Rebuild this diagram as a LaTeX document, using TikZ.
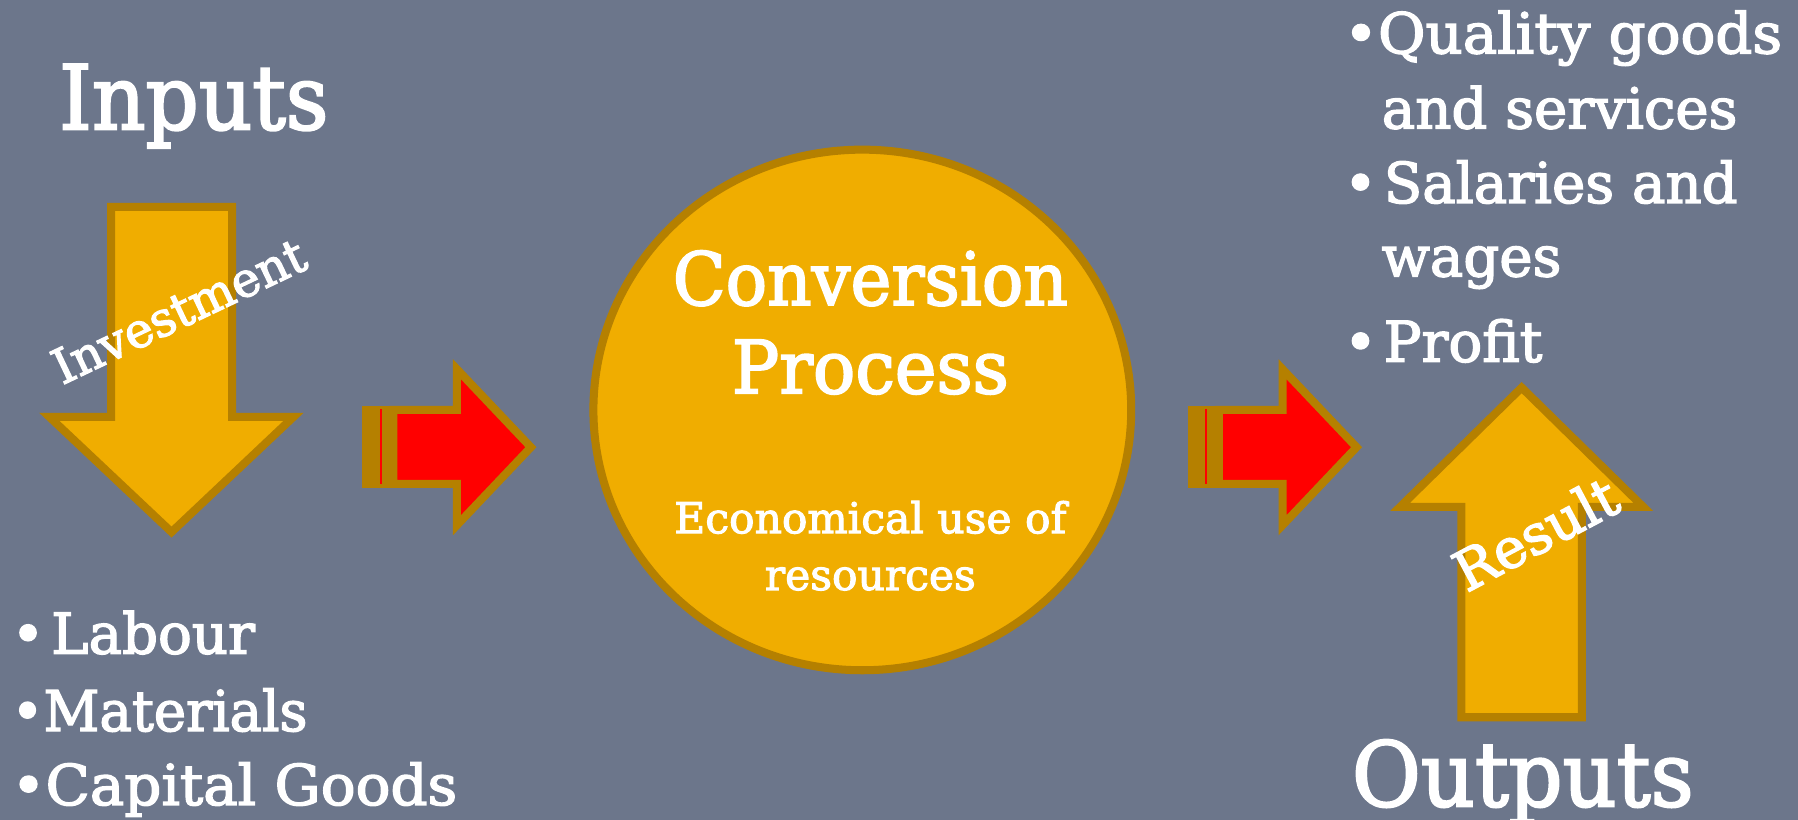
\documentclass[tikz,border=0pt]{standalone}
\usepackage{fontspec}
\setmainfont{DejaVu Serif}[FakeBold=2.5]
\usetikzlibrary{shapes.geometric}
\definecolor{bg}{RGB}{108,118,139}
\definecolor{gold}{RGB}{240,173,0}
\definecolor{goldline}{RGB}{181,128,0}
\definecolor{redfill}{RGB}{255,0,0}
\newcommand{\fs}[1]{\fontsize{#1}{#1}\selectfont}
\newcommand{\nx}[2]{\scalebox{#1}[1]{#2}}
\begin{document}
\begin{tikzpicture}[x=1pt,y=-1pt,
  lbl/.style={text=white,inner sep=0pt,outer sep=0pt},
  shapebody/.style={fill=gold,draw=goldline,line width=7pt,miter limit=10},
  redbody/.style={fill=redfill,draw=goldline,line width=7pt,miter limit=10},
  stripe/.style={fill=goldline},
  title/.style={lbl,anchor=base west,font=\fs{78}},
  item/.style={lbl,anchor=base west,font=\fs{49}},
  tilted/.style={lbl,anchor=center,font=\fs{42}}
]
\fill[bg] (0,0) rectangle (1568,715);
\useasboundingbox (0,0) rectangle (1568,715);

% down arrow (inputs)
\draw[shapebody] (97,180.5) -- (202.5,180.5) -- (202.5,363.5) -- (256,363.5) -- (149.6,464) -- (43,363.5) -- (97,363.5) -- cycle;
% up arrow (outputs)
\draw[shapebody] (1274.5,625.5) -- (1379.5,625.5) -- (1379.5,442) -- (1433,442) -- (1327,338) -- (1221,442) -- (1274.5,442) -- cycle;

% red arrow 1
\fill[stripe] (316,354) rectangle (343,425.6);
\draw[redfill,line width=2pt] (332,357) -- (332,422);
\draw[redbody] (343,357.5) -- (398.5,357.5) -- (398.5,322) -- (463,390) -- (398.5,458) -- (398.5,422) -- (343,422) -- cycle;
% red arrow 2
\fill[stripe] (1036,354) rectangle (1063,425.6);
\draw[redfill,line width=2pt] (1052,357) -- (1052,422);
\draw[redbody] (1063,357.5) -- (1118.5,357.5) -- (1118.5,322) -- (1183,390) -- (1118.5,458) -- (1118.5,422) -- (1063,422) -- cycle;

% conversion circle
\node[ellipse,draw=goldline,fill=gold,line width=7pt,minimum width=469pt,minimum height=454pt,inner sep=0pt] (circle) at (752,357.5) {};

% texts
\node[title] (inputs) at (51.6,112.8) {\nx{0.93}{Inputs}};
\node[title] (outputs) at (1179,703) {\nx{0.94}{Outputs}};
\node[lbl,anchor=base,font=\fs{64}] (conversion) at (759,266) {\nx{0.94}{Conversion}};
\node[lbl,anchor=base,font=\fs{64}] (process) at (759,343) {\nx{0.96}{Process}};
\node[lbl,anchor=base,font=\fs{37}] (econ) at (759,465) {Economical use of};
\node[lbl,anchor=base,font=\fs{37}] (resources) at (759,514.5) {resources};
\node[tilted,rotate=25.4] (investment) at (156,271) {Investment};
\node[tilted,rotate=28,font=\fs{48}] (result) at (1339,465) {Result};

\node[item] (labour) at (10,570) {•\hspace{0.12em}Labour};
\node[item] (materials) at (10,637.5) {\nx{0.97}{•Materials}};
\node[item] (capital) at (10,702) {\nx{1.03}{•Capital Goods}};

\node[item] (quality) at (1172,46.5) {\nx{1.03}{•Quality goods}};
\node[item] (services) at (1205,112) {and services};
\node[item] (salaries) at (1172,177) {•\hspace{0.12em}Salaries and};
\node[item] (wages) at (1205,241) {wages};
\node[item] (profit) at (1172,315.5) {•\hspace{0.12em}Profit};
\end{tikzpicture}
\end{document}
